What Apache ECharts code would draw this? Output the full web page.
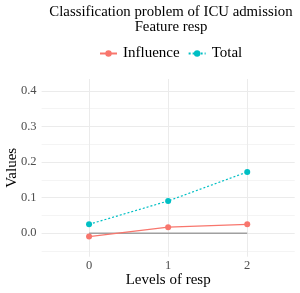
<!DOCTYPE html>
<html><head><meta charset="utf-8">
<script src="https://cdn.jsdelivr.net/npm/echarts@6/dist/echarts.min.js"></script>
<style>html,body{margin:0;padding:0;background:#fff}#c{width:300px;height:293px}</style>
</head><body><div id="c"></div>
<script>
const levels = [0, 1, 2];
const influence = [-0.0095, 0.017, 0.025];
const total = [0.025, 0.0905, 0.172];
const baseline = [0, 0];
const yTicks = [0, 0.1, 0.2, 0.3, 0.4];
const yMinor = [-0.05, 0.05, 0.15, 0.25, 0.35];
const titleLines = ['Classification problem of ICU admission', 'Feature resp'];

const FONT = 'Liberation Serif';
const grid = {left: 41.6, right: 5.3, top: 79, bottom: 36.3, outerBoundsMode: 'none', containLabel: false};
const chart = echarts.init(document.getElementById('c'));
chart.setOption({
  animation: false,
  textStyle: {fontFamily: FONT},
  title: {text: titleLines.join('\n'), left: 166, textAlign: 'center', top: 0,
    textStyle: {fontFamily: FONT, fontSize: 14.8, fontWeight: 'normal', color: '#000', lineHeight: 15}},
  legend: {top: 46, left: 99, padding: 0, orient: 'horizontal', itemWidth: 17, itemHeight: 8, itemGap: 8,
    textStyle: {fontFamily: FONT, fontSize: 15, color: '#000', padding:[0,0,0,1]},
    data: ['Influence', 'Total']},
  grid: [grid, grid],
  xAxis: [{type: 'value', min: -0.6, max: 2.6, gridIndex: 0,
    axisLine: {show: false}, axisTick: {show: false, customValues: levels},
    axisLabel: {customValues: levels, color: '#4D4D4D', fontSize: 12.5, margin: 3, fontFamily: FONT},
    splitLine: {show: true, lineStyle: {color: '#EBEBEB', width: 1}},
    name: 'Levels of resp', nameLocation: 'middle', nameGap: 16, nameMoveOverlap: false,
    nameTextStyle: {fontFamily: FONT, fontSize: 15, color: '#000'}},
   {type: 'value', min: -0.6, max: 2.6, gridIndex: 1, show: false}],
  yAxis: [{type: 'value', min: -0.066, max: 0.433, gridIndex: 0,
    axisLine: {show: false}, axisTick: {show: false, customValues: yTicks},
    axisLabel: {customValues: yTicks, color: '#4D4D4D', fontSize: 12.5, margin: 5, fontFamily: FONT,
      formatter: v => v.toFixed(1)},
    splitLine: {show: true, lineStyle: {color: '#EBEBEB', width: 1}},
    name: 'Values', nameLocation: 'middle', nameGap: 22, nameMoveOverlap: false,
    nameTextStyle: {fontFamily: FONT, fontSize: 15, color: '#000'}},
   {type: 'value', min: -0.066, max: 0.433, gridIndex: 1,
    axisLine: {show: false}, axisTick: {show: false, customValues: yMinor},
    axisLabel: {show: false, customValues: yMinor},
    splitLine: {show: true, lineStyle: {color: '#F4F4F4', width: 1}}}],
  series: [
    {name: 'baseline', type: 'line', xAxisIndex: 0, yAxisIndex: 0,
     data: [[levels[0], baseline[0]], [levels[2], baseline[1]]], symbol: 'none',
     lineStyle: {color: '#A0A0A0', width: 1.5}, silent: true, z: 1},
    {name: 'Influence', type: 'line', xAxisIndex: 0, yAxisIndex: 0,
     data: levels.map((l, i) => [l, influence[i]]), symbol: 'circle', symbolSize: 6,
     itemStyle: {color: '#F8766D'}, lineStyle: {color: '#F8766D', width: 1.2}, z: 3},
    {name: 'Total', type: 'line', xAxisIndex: 0, yAxisIndex: 0,
     data: levels.map((l, i) => [l, total[i]]), symbol: 'circle', symbolSize: 6,
     itemStyle: {color: '#00BFC4'}, lineStyle: {color: '#00BFC4', width: 1.2, type: [2, 2]}, z: 3}
  ]
});
</script></body></html>
